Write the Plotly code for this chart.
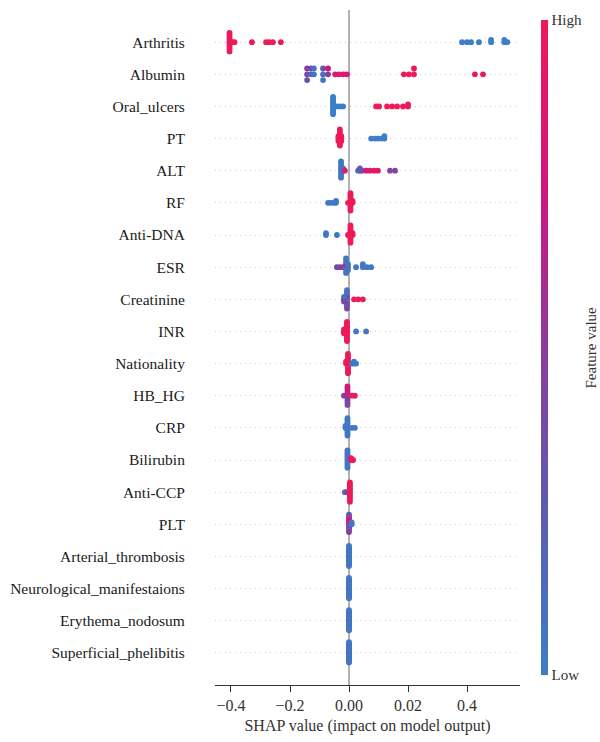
import numpy as np
import plotly.graph_objects as go

# ---------------- data ----------------
features = [
    "Arthritis", "Albumin", "Oral_ulcers", "PT", "ALT", "RF", "Anti-DNA", "ESR",
    "Creatinine", "INR", "Nationality", "HB_HG", "CRP", "Bilirubin", "Anti-CCP",
    "PLT", "Arterial_thrombosis", "Neurological_manifestaions", "Erythema_nodosum",
    "Superficial_phelibitis",
]

# axis tick values (SHAP units) and their labels, as printed on the chart
tick_values = [-0.4, -0.2, 0.0, 0.02, 0.4]
tick_labels = ["\u22120.4", "\u22120.2", "0.00", "0.02", "0.4"]

arthritis_shap = [-0.405, -0.405, -0.405, -0.405, -0.405, -0.405, -0.405, -0.405, -0.405,
                  -0.395, -0.388, -0.329, -0.281, -0.271, -0.258, -0.231,
                  0.368, 0.400, 0.426, 0.477, 0.555, 0.555, 0.640, 0.640, 0.660]
arthritis_fval = [1, 1, 1, 1, 1, 1, 1, 1, 1, 1, 1, 1, 1, 1, 1, 1,
                  0, 0, 0, 0, 0, 0, 0, 0, 0]

albumin_shap = [-0.142, -0.142, -0.142, -0.129, -0.129, -0.119, -0.119,
                -0.088, -0.088, -0.088, -0.071, -0.071,
                -0.047, -0.034, -0.020, -0.007,
                0.0186, 0.026, 0.0586, 0.0586, 0.451, 0.503]
albumin_fval = [0.40, 0.45, 0.35, 0.15, 0.45, 0.10, 0.10,
                0.10, 0.30, 0.05, 0.50, 0.75,
                0.85, 0.85, 0.85, 0.85,
                1, 1, 1, 1, 1, 1]

oral_ulcers_shap = [-0.054, -0.054, -0.054, -0.054, -0.054, -0.054, -0.054, -0.054, -0.054, -0.054,
                    -0.041, -0.031, -0.020,
                    0.0092, 0.0102, 0.0129, 0.0146, 0.0163, 0.0183, 0.0200, 0.0200]
oral_ulcers_fval = [0, 0, 0, 0, 0, 0, 0, 0, 0, 0, 0, 0, 0,
                    1, 1, 1, 1, 1, 1, 1, 1]

pt_shap = [-0.031, -0.031, -0.031, -0.031, -0.031, -0.031, -0.031, -0.031,
           -0.036, -0.036, -0.036, -0.026, -0.026, -0.026,
           0.0075, 0.0088, 0.0098, 0.0110, 0.0120, 0.0120]
pt_fval = [1, 1, 1, 1, 1, 1, 1, 1, 1, 1, 1, 1, 1, 1,
           0, 0, 0, 0, 0, 0]

alt_shap = [-0.027, -0.027, -0.027, -0.027, -0.027, -0.027, -0.027, -0.027,
            -0.020, -0.020, -0.014,
            0.0031, 0.0037, 0.0037, 0.0044, 0.0058, 0.0071, 0.0085, 0.0098, 0.0139, 0.0156]
alt_fval = [0.05, 0.05, 0.05, 0.05, 0.05, 0.05, 0.05, 0.05,
            0.10, 0.10, 0.90,
            0.25, 0.10, 0.30, 0.35, 0.75, 0.85, 0.90, 0.90, 0.45, 0.40]

rf_shap = [-0.071, -0.061, -0.051, -0.044, -0.044,
           0.0005, 0.0005, 0.0005, 0.0005, 0.0005, 0.0005, 0.0005, 0.0005, 0.0005, 0.0005,
           -0.0034, 0.0012, 0.0012]
rf_fval = [0.05, 0.05, 0.05, 0.05, 0.05,
           1, 1, 1, 1, 1, 1, 1, 1, 1, 1, 1, 1, 1]

anti_dna_shap = [-0.078, -0.078, -0.041,
                 0.0005, 0.0005, 0.0005, 0.0005, 0.0005, 0.0005, 0.0005, 0.0005, 0.0005, 0.0005,
                 -0.0034, 0.0012, 0.0012]
anti_dna_fval = [0.05, 0.05, 0.05,
                 1, 1, 1, 1, 1, 1, 1, 1, 1, 1, 1, 1, 1]

esr_shap = [-0.041, -0.031, -0.020,
            -0.010, -0.010, -0.010, -0.010, -0.010, -0.010,
            -0.0034, -0.0034, -0.0034,
            0.0024, 0.0047, 0.0047, 0.0061, 0.0075]
esr_fval = [0.45, 0.40, 0.50,
            0.10, 0.80, 0.10, 0.05, 0.10, 0.05,
            0.10, 0.05, 0.10,
            0.05, 0.05, 0.05, 0.05, 0.05]

creatinine_shap = [-0.007, -0.007, -0.007, -0.007, -0.007, -0.007, -0.007, -0.007, -0.007,
                   -0.017, -0.017, -0.017, 0.0017, 0.0031, 0.0047]
creatinine_fval = [0.10, 0.45, 0.10, 0.40, 0.45, 0.10, 0.35, 0.10, 0.40,
                   0.45, 0.10, 0.40, 1, 1, 1]

inr_shap = [-0.007, -0.007, -0.007, -0.007, -0.007, -0.007, -0.007, -0.007, -0.007, -0.007, -0.007,
            -0.017, -0.017, -0.017, 0.0024, 0.0058]
inr_fval = [1, 1, 1, 1, 1, 1, 1, 1, 1, 1, 1, 1, 1, 1, 0.05, 0.05]

nationality_shap = [-0.0034, -0.0034, -0.0034, -0.0034, -0.0034, -0.0034, -0.0034, -0.0034,
                    -0.0034, -0.0034, -0.0034, -0.010, -0.010,
                    0.0010, 0.0017, 0.0017, 0.0024]
nationality_fval = [1, 1, 1, 1, 1, 1, 1, 1, 1, 1, 1, 1, 1, 0.05, 0.05, 0.05, 0.05]

hb_hg_shap = [-0.0051, -0.0051, -0.0051, -0.0051, -0.0051, -0.0051, -0.0051, -0.0051, -0.0051,
              -0.017, 0.0010, 0.0020]
hb_hg_fval = [0.30, 0.80, 0.45, 0.85, 0.50, 0.70, 0.40, 0.75, 0.45, 0.50, 1, 1]

crp_shap = [-0.0051, -0.0051, -0.0051, -0.0051, -0.0051, -0.0051, -0.0051, -0.0051, -0.0051, -0.0051,
            -0.012, -0.012, 0.0010, 0.0020]
crp_fval = [1, 0.05, 0.05, 0.05, 0.05, 0.05, 0.05, 0.05, 0.05, 0.05, 0.05, 0.05, 0.05, 0.05]

bilirubin_shap = [-0.0051, -0.0051, -0.0051, -0.0051, -0.0051, -0.0051, -0.0051, -0.0051, -0.0051,
                  -0.0051, 0.0007, 0.0007, 0.0014]
bilirubin_fval = [0.05, 0.05, 0.05, 0.05, 0.05, 0.05, 0.05, 0.05, 0.05, 0.05, 1, 1, 1]

anti_ccp_shap = [-0.014, -0.007, 0.0003, 0.0003, 0.0003, 0.0003, 0.0003, 0.0003, 0.0003,
                 0.0003, 0.0003, 0.0003, 0.0003]
anti_ccp_fval = [0.10, 0.35, 1, 1, 1, 1, 1, 1, 1, 1, 1, 1, 1]

plt_shap = [0.0, 0.0, 0.0, 0.0, 0.0, 0.0, 0.0, 0.0, 0.0, 0.0, 0.0009, 0.0009]
plt_fval = [0.50, 0.85, 0.30, 0.90, 0.45, 0.75, 0.20, 0.80, 0.50, 0.30, 0.05, 0.05]

zero_shap = [0.0, 0.0, 0.0, 0.0, 0.0, 0.0, 0.0, 0.0, 0.0, 0.0, 0.0,
             0.0, 0.0, 0.0, 0.0, 0.0, 0.0, 0.0, 0.0, 0.0, 0.0, 0.0]
zero_fval = [0.05, 0.05, 0.05, 0.05, 0.05, 0.05, 0.05, 0.05, 0.05, 0.05, 0.05,
             0.05, 0.05, 0.05, 0.05, 0.05, 0.05, 0.05, 0.05, 0.05, 0.05, 0.05]

series = [
    (arthritis_shap, arthritis_fval), (albumin_shap, albumin_fval),
    (oral_ulcers_shap, oral_ulcers_fval), (pt_shap, pt_fval), (alt_shap, alt_fval),
    (rf_shap, rf_fval), (anti_dna_shap, anti_dna_fval), (esr_shap, esr_fval),
    (creatinine_shap, creatinine_fval), (inr_shap, inr_fval),
    (nationality_shap, nationality_fval), (hb_hg_shap, hb_hg_fval), (crp_shap, crp_fval),
    (bilirubin_shap, bilirubin_fval), (anti_ccp_shap, anti_ccp_fval), (plt_shap, plt_fval),
    (zero_shap, zero_fval), (zero_shap, zero_fval), (zero_shap, zero_fval), (zero_shap, zero_fval),
]

# ---------------- scale (the printed axis is piecewise) ----------------
def to_axis(v):
    a = np.array(tick_values, float)
    pos = np.arange(len(a)) - (len(a) - 1) / 2.0
    v = np.asarray(v, float)
    out = np.interp(v, a, pos)
    lo, hi = v < a[0], v > a[-1]
    out[lo] = pos[0] + (v[lo] - a[0]) / (a[1] - a[0])
    out[hi] = pos[-1] + (v[hi] - a[-1]) / (a[-1] - a[-2])
    return out


def swarm_offsets(u, row_height=0.4, nbins=100):
    u = np.asarray(u, float)
    span = u.max() - u.min()
    quant = np.round(nbins * (u - u.min()) / (span + 1e-8))
    inds = np.argsort(quant, kind="stable")
    ys = np.zeros(len(u))
    layer, last = 0, None
    for i in inds:
        if quant[i] != last:
            layer = 0
        ys[i] = np.ceil(layer / 2) * ((layer % 2) * 2 - 1)
        layer += 1
        last = quant[i]
    ys *= 0.9 * (row_height / np.max(ys + 1))
    return ys


n = len(features)
xs, ys, cs = [], [], []
for i, (sv, fv) in enumerate(series):
    row = n - 1 - i
    u = to_axis(sv)
    off = swarm_offsets(u)
    xs.extend(u.tolist())
    ys.extend((row + off).tolist())
    cs.extend(fv)

FONT = "Liberation Serif"
colorscale = [[0.0, "#3c7ec9"], [0.25, "#5b5db0"], [0.5, "#8c3c9c"],
              [0.75, "#d0167f"], [1.0, "#ee1a58"]]

fig = go.Figure()
fig.add_trace(go.Scatter(
    x=xs, y=ys, mode="markers",
    marker=dict(size=5.8, color=cs, colorscale=colorscale, cmin=0, cmax=1,
                line=dict(width=0),
                colorbar=dict(
                    x=(541 - 215) / 305, xanchor="left", xpad=0,
                    y=0, yanchor="bottom", len=1, lenmode="fraction",
                    thickness=7, outlinewidth=0, ticks="",
                    tickvals=[0, 1], ticktext=["Low", "High"],
                    tickfont=dict(family=FONT, size=15, color="#333"),
                )),
    hoverinfo="skip", showlegend=False,
))

fig.add_shape(type="line", x0=0, x1=0, xref="x", y0=0, y1=1, yref="paper",
              line=dict(color="#999999", width=1.5), layer="below")

fig.add_annotation(text="Feature value", textangle=-90, showarrow=False,
                   xref="paper", yref="paper", x=(590 - 215) / 305, y=0.5,
                   xanchor="center", yanchor="middle",
                   font=dict(family=FONT, size=15, color="#333"))

fig.update_layout(
    width=600, height=742,
    margin=dict(l=215, r=80, t=10, b=57, autoexpand=False),
    plot_bgcolor="white", paper_bgcolor="white",
    font=dict(family=FONT, color="#222"),
)
fig.update_xaxes(
    range=[-2.271, 2.898], tickvals=[-2, -1, 0, 1, 2], ticktext=tick_labels,
    showline=True, linecolor="#333", linewidth=1, ticks="outside", ticklen=6,
    tickcolor="#333", showgrid=False, zeroline=False, automargin=False,
    tickfont=dict(family=FONT, size=16, color="#333"),
    title=dict(text="SHAP value (impact on model output)", standoff=6,
               font=dict(family=FONT, size=16, color="#333")),
)
fig.update_yaxes(
    range=[-1, n], tickvals=list(range(n - 1, -1, -1)), ticktext=features,
    showline=False, zeroline=False, ticks="outside", ticklen=26,
    tickcolor="rgba(0,0,0,0)", automargin=False,
    showgrid=True, gridcolor="#cccccc", gridwidth=1, griddash="1px,4px",
    tickfont=dict(family=FONT, size=15.5, color="#1a1a1a"),
)

fig.write_html("out.html")
